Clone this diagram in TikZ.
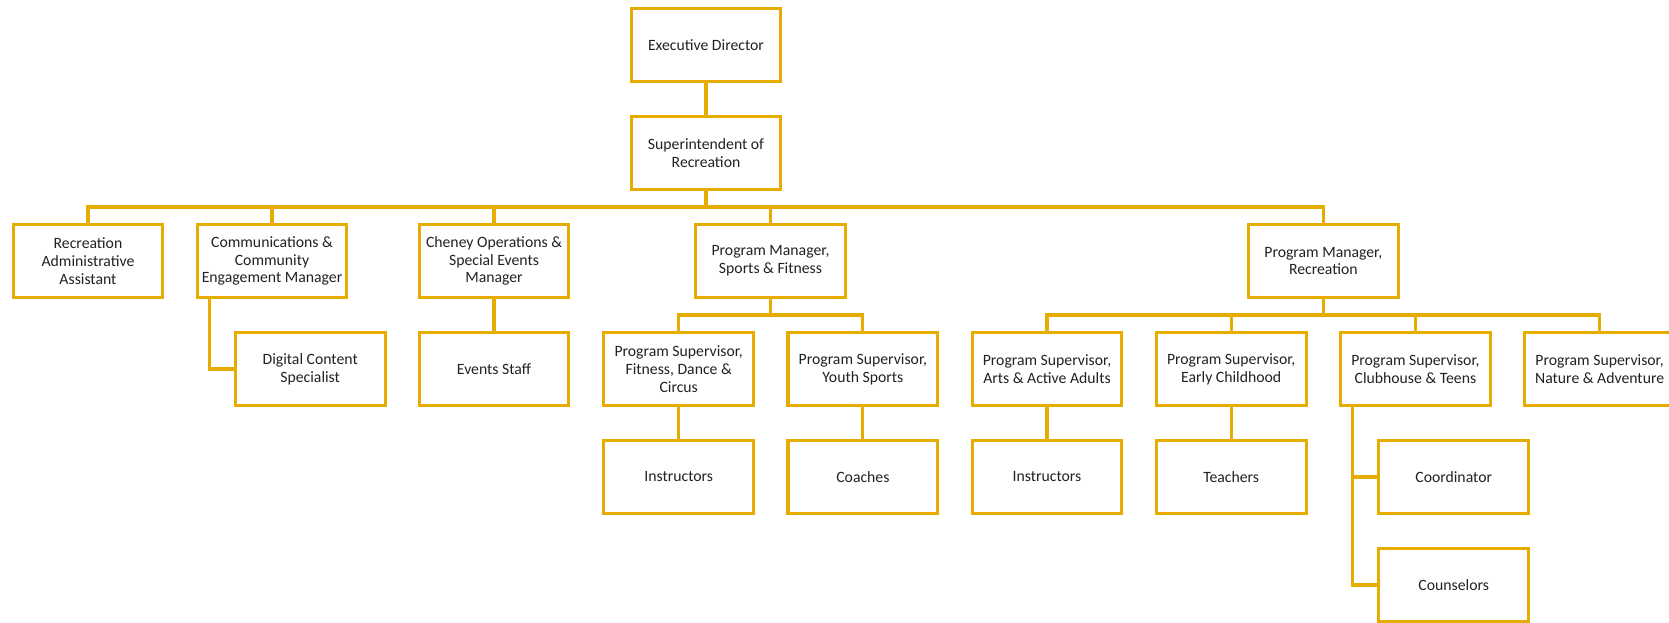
\documentclass[tikz,border=0pt]{standalone}
\usepackage{fontspec}
\setmainfont{Carlito}
\definecolor{orggold}{RGB}{230,172,0}
\definecolor{orgtext}{RGB}{34,34,34}
\begin{document}
\begin{tikzpicture}[
  x=0.75pt, y=-0.75pt,
  every node/.style = {
    rectangle,
    draw=orggold,
    line width=2.3pt,
    fill=white,
    text=orgtext,
    align=center,
    node font=\fontsize{11.8}{13.3}\selectfont,
    inner sep=2pt,
    minimum width=112.4pt,
    minimum height=54.7pt
  },
  oedge/.style={draw=orggold, line width=2.3pt}
]
    \useasboundingbox (0,0) rectangle (1669,623);
    % top of the chart
    \node (exec) at (706,45) {Executive Director};
    \node (supt) at (706,153) {Superintendent of\\Recreation};
    \coordinate (bus) at (706,207);
    % first row under the superintendent
    \node (admin) at (88,261) {Recreation\\Administrative\\Assistant};
    \node (comms) at (272,261) {Communications \&\\Community\\Engagement Manager};
    \node (cheney) at (494,261) {Cheney Operations \&\\Special Events\\Manager};
    \node (pmsport) at (770.5,261) {Program Manager,\\Sports \& Fitness};
    \node (pmrec) at (1323.3,261) {Program Manager,\\Recreation};
    \coordinate (sbus) at (770.5,315);
    \coordinate (rbus) at (1323.3,315);
    % second row
    \node (digital) at (310.2,369) {Digital Content\\Specialist};
    \node (events) at (494,369) {Events Staff};
    \node (psfit) at (678.7,369) {Program Supervisor,\\Fitness, Dance \&\\Circus};
    \node (psyouth) at (862.9,369) {Program Supervisor,\\Youth Sports};
    \node (psarts) at (1047,369) {Program Supervisor,\\Arts \& Active Adults};
    \node (psearly) at (1231.2,369) {Program Supervisor,\\Early Childhood};
    \node (psclub) at (1415.4,369) {Program Supervisor,\\Clubhouse \& Teens};
    \node (psnat) at (1599.6,369) {Program Supervisor,\\Nature \& Adventure};
    % third and fourth rows
    \node (instr) at (678.7,477) {Instructors};
    \node (coach) at (862.9,477) {Coaches};
    \node (instrb) at (1047,477) {Instructors};
    \node (teach) at (1231.2,477) {Teachers};
    \node (coord) at (1453.7,477) {Coordinator};
    \node (couns) at (1453.7,585) {Counselors};

    \path[oedge] (exec) -- (supt);
    \path[oedge] (supt) -- (bus);
    \foreach \n in {admin,comms,cheney,pmsport,pmrec}{
        \path[oedge] (bus) -| (\n);
    }
    \path[oedge] (pmsport) -- (sbus);
    \path[oedge] (pmrec) -- (rbus);
    \foreach \n in {psfit,psyouth}{
        \path[oedge] (sbus) -| (\n);
    }
    \foreach \n in {psarts,psearly,psclub,psnat}{
        \path[oedge] (rbus) -| (\n);
    }
    \path[oedge] (cheney) -- (events);
    \path[oedge] (psfit) -- (instr);
    \path[oedge] (psyouth) -- (coach);
    \path[oedge] (psarts) -- (instrb);
    \path[oedge] (psearly) -- (teach);
    \path[oedge] ([xshift=10.7pt]comms.south west) |- (digital);
    \path[oedge] ([xshift=10.5pt]psclub.south west) |- (coord);
    \path[oedge] ([xshift=10.5pt]psclub.south west) |- (couns);
\end{tikzpicture}
\end{document}
